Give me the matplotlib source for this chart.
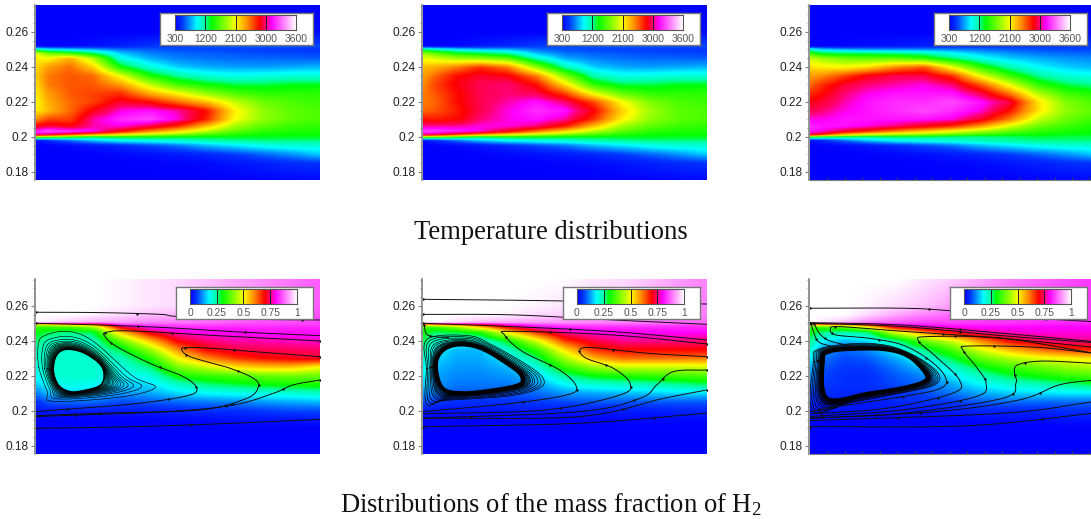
import numpy as np
import matplotlib
matplotlib.use("Agg")
import matplotlib.pyplot as plt
from matplotlib.colors import LinearSegmentedColormap

plt.rcParams['font.family'] = ['Liberation Sans', 'DejaVu Sans']
W, H = 1091, 519

# ---------- data ----------
X_ST = [0, .04, .12, .2, .3, .4, .5, .6, .7, .8, .9, 1]
T_Y = [.275, .26, .252, .25, .248, .245, .24, .235, .23, .225, .22, .215, .21, .206, .203, .201, .2, .198, .195, .19, .185, .175]
T_TOP = [[300]*12,
         [300, 300, 300, 300, 300, 300, 310, 320, 330, 340, 340, 340]]
T_BOTTOM = [[350, 450, 650, 850, 1000, 1050, 1100, 1180, 1220, 1250, 1250, 1250],
            [300, 310, 330, 380, 450, 550, 650, 800, 900, 1000, 1050, 1050],
            [300, 300, 300, 310, 330, 360, 400, 450, 520, 620, 720, 850],
            [300, 300, 300, 300, 300, 310, 320, 340, 380, 420, 470, 500],
            [300, 300, 300, 300, 300, 300, 300, 300, 300, 310, 320, 330]]
T1 = T_TOP + [
    [300, 300, 310, 360, 420, 500, 550, 580, 600, 600, 580, 560],
    [1200, 1000, 900, 800, 650, 600, 560, 540, 530, 520, 510, 500],
    [2000, 1700, 1500, 1250, 820, 680, 620, 600, 580, 560, 550, 540],
    [2150, 2100, 2350, 1900, 1000, 780, 680, 650, 630, 620, 610, 600],
    [2200, 2400, 2550, 2250, 1400, 1050, 850, 780, 750, 750, 770, 800],
    [2250, 2500, 2600, 2550, 2050, 1450, 1200, 1050, 1000, 1020, 1050, 1050],
    [2200, 2500, 2600, 2600, 2400, 1950, 1550, 1400, 1300, 1300, 1350, 1350],
    [2150, 2400, 2600, 2650, 2700, 2350, 2100, 1800, 1600, 1500, 1500, 1500],
    [2100, 2350, 2550, 2650, 2900, 2800, 2550, 2300, 1950, 1700, 1600, 1550],
    [2150, 2300, 2550, 2850, 3100, 3150, 3050, 2800, 2150, 1800, 1650, 1600],
    [2450, 2650, 2650, 3050, 3200, 3250, 3100, 2750, 2100, 1800, 1650, 1600],
    [2850, 2950, 2850, 3050, 3100, 2950, 2700, 2300, 1850, 1650, 1550, 1500],
    [3200, 3300, 3250, 3150, 2800, 2450, 2200, 1900, 1650, 1500, 1450, 1450],
    [3000, 2900, 2600, 2300, 2050, 1850, 1700, 1550, 1450, 1400, 1400, 1400],
    [1800, 1700, 1500, 1300, 1400, 1400, 1350, 1350, 1350, 1350, 1350, 1350],
] + T_BOTTOM
T2 = T_TOP + [
    [300, 300, 320, 380, 450, 520, 560, 580, 600, 600, 580, 560],
    [1300, 1150, 950, 850, 800, 650, 570, 540, 530, 520, 510, 500],
    [1800, 1650, 1400, 1300, 1150, 800, 650, 610, 580, 560, 550, 540],
    [2050, 2000, 1850, 1800, 1650, 1100, 770, 680, 640, 620, 610, 600],
    [2300, 2350, 2500, 2700, 2500, 1800, 1150, 850, 770, 750, 770, 800],
    [2400, 2550, 2800, 2900, 2850, 2500, 1750, 1150, 1000, 1020, 1050, 1050],
    [2450, 2650, 2850, 2950, 3000, 2800, 2200, 1500, 1300, 1300, 1350, 1350],
    [2500, 2600, 2800, 2950, 3000, 2950, 2650, 2050, 1650, 1500, 1500, 1500],
    [2500, 2550, 2800, 2950, 3050, 3150, 3000, 2650, 2100, 1750, 1600, 1550],
    [2550, 2600, 2750, 2950, 3100, 3200, 3150, 2850, 2250, 1850, 1650, 1600],
    [2800, 2750, 2800, 3000, 3100, 3150, 3050, 2700, 2150, 1800, 1650, 1600],
    [3050, 3050, 3050, 3100, 3100, 3000, 2750, 2300, 1850, 1650, 1550, 1500],
    [3250, 3250, 3200, 3100, 2850, 2500, 2200, 1900, 1650, 1500, 1450, 1450],
    [3000, 2900, 2600, 2300, 2050, 1850, 1700, 1550, 1450, 1400, 1400, 1400],
    [1800, 1700, 1500, 1300, 1400, 1400, 1350, 1350, 1350, 1350, 1350, 1350],
] + T_BOTTOM
T3 = T_TOP + [
    [300, 300, 320, 350, 380, 420, 450, 480, 500, 520, 520, 520],
    [1100, 900, 800, 750, 730, 720, 700, 650, 600, 570, 550, 540],
    [1500, 1300, 1250, 1250, 1200, 1150, 950, 800, 720, 650, 620, 600],
    [1950, 1850, 1700, 1650, 1650, 1500, 1250, 1000, 850, 780, 730, 700],
    [2200, 2150, 2100, 2200, 2450, 2600, 2050, 1500, 1150, 950, 850, 800],
    [2400, 2450, 2650, 2850, 2950, 2950, 2700, 2050, 1550, 1200, 1050, 1000],
    [2550, 2700, 2900, 3000, 3050, 3100, 3000, 2600, 2050, 1500, 1300, 1200],
    [2700, 2800, 3000, 3100, 3150, 3150, 3150, 2950, 2500, 1900, 1550, 1450],
    [2850, 2900, 3050, 3150, 3200, 3200, 3250, 3150, 2950, 2200, 1750, 1600],
    [2950, 3000, 3100, 3150, 3200, 3250, 3200, 3100, 2800, 2200, 1800, 1650],
    [3100, 3100, 3150, 3150, 3150, 3150, 3100, 2900, 2500, 1950, 1700, 1550],
    [3200, 3150, 3150, 3100, 3000, 2850, 2700, 2400, 2000, 1700, 1550, 1450],
    [3150, 3100, 2900, 2700, 2450, 2250, 2050, 1850, 1650, 1500, 1450, 1400],
    [2900, 2700, 2200, 1950, 1800, 1700, 1600, 1500, 1400, 1400, 1350, 1350],
    [1500, 1300, 1250, 1200, 1250, 1250, 1200, 1200, 1250, 1300, 1300, 1300],
] + T_BOTTOM

H_Y = [.275, .26, .255, .2505, .2495, .248, .245, .24, .235, .23, .225, .22, .215, .21, .205, .2, .195, .19, .175]
M1 = [
    [1, 1, 1, 1, .99, .98, .97, .95, .93, .91, .89, .87],
    [1, 1, 1, 1, .99, .98, .97, .95, .93, .91, .89, .87],
    [1, 1, 1, .99, .97, .95, .94, .92, .90, .88, .87, .86],
    [1, .98, .95, .93, .92, .90, .89, .88, .87, .86, .86, .85],
    [.45, .5, .55, .6, .85, .86, .86, .86, .85, .85, .85, .85],
    [.35, .34, .36, .42, .73, .82, .83, .83, .83, .83, .83, .83],
    [.3, .28, .26, .28, .55, .72, .78, .8, .8, .81, .81, .81],
    [.27, .23, .22, .22, .38, .55, .71, .75, .77, .77, .78, .78],
    [.24, .22, .215, .215, .28, .42, .6, .7, .73, .74, .74, .75],
    [.22, .215, .215, .215, .23, .32, .5, .6, .66, .69, .71, .72],
    [.2, .215, .215, .215, .2, .26, .4, .46, .52, .55, .55, .5],
    [.19, .21, .215, .215, .18, .2, .31, .34, .36, .38, .39, .38],
    [.15, .18, .2, .19, .15, .16, .22, .26, .28, .3, .31, .32],
    [.1, .14, .15, .14, .12, .13, .16, .18, .19, .2, .21, .22],
    [.05, .08, .09, .09, .07, .08, .09, .1, .11, .12, .13, .14],
    [.02, .03, .03, .03, .03, .03, .04, .05, .05, .06, .07, .07],
    [0, 0, 0, 0, 0, 0, .01, .01, .02, .02, .02, .03],
    [0]*12,
    [0]*12,
]
M2 = [
    [1, 1, 1, 1, 1, 1, .995, .98, .97, .95, .92, .9],
    [1, 1, 1, 1, 1, .99, .98, .97, .96, .94, .92, .9],
    [1, 1, 1, 1, .99, .97, .96, .95, .93, .92, .91, .9],
    [1, 1, .97, .94, .93, .92, .91, .9, .9, .89, .88, .88],
    [.55, .6, .65, .7, .8, .85, .87, .87, .87, .87, .86, .86],
    [.35, .34, .42, .55, .72, .8, .82, .83, .83, .83, .83, .83],
    [.3, .27, .28, .32, .52, .67, .77, .79, .8, .8, .8, .8],
    [.28, .22, .2, .2, .3, .47, .66, .73, .76, .76, .76, .75],
    [.25, .18, .14, .14, .22, .34, .53, .67, .7, .7, .7, .7],
    [.22, .16, .13, .13, .17, .26, .43, .56, .62, .62, .62, .61],
    [.2, .14, .12, .12, .14, .2, .34, .42, .46, .46, .46, .47],
    [.18, .13, .11, .11, .12, .15, .25, .3, .32, .34, .35, .36],
    [.16, .12, .1, .1, .1, .12, .18, .21, .22, .23, .25, .27],
    [.12, .1, .08, .08, .08, .09, .12, .13, .14, .15, .16, .16],
    [.08, .06, .05, .05, .05, .06, .07, .08, .08, .08, .08, .08],
    [.02, .02, .02, .02, .02, .03, .03, .03, .03, .03, .04, .04],
    [0, 0, 0, 0, 0, 0, 0, 0, .01, .01, .01, .01],
    [0]*12,
    [0]*12,
]
M3 = [
    [1, 1, 1, 1, 1, .98, .96, .93, .9, .88, .86, .84],
    [1, 1, 1, .99, .97, .95, .92, .9, .88, .86, .85, .84],
    [1, 1, 1, .97, .93, .9, .88, .87, .86, .85, .85, .84],
    [1, .98, .95, .9, .87, .85, .85, .84, .84, .83, .83, .83],
    [.55, .6, .6, .7, .82, .83, .83, .83, .83, .82, .82, .82],
    [.34, .35, .38, .5, .72, .78, .8, .8, .8, .8, .8, .8],
    [.3, .26, .24, .26, .48, .6, .72, .77, .78, .79, .79, .79],
    [.26, .18, .14, .16, .24, .38, .47, .6, .7, .74, .76, .76],
    [.22, .12, .09, .11, .18, .26, .36, .48, .56, .62, .66, .68],
    [.18, .1, .07, .08, .13, .2, .28, .38, .44, .48, .5, .52],
    [.14, .08, .06, .06, .1, .15, .22, .29, .35, .38, .42, .44],
    [.12, .07, .05, .05, .08, .11, .17, .23, .28, .31, .34, .36],
    [.1, .06, .05, .05, .07, .09, .13, .18, .21, .23, .25, .28],
    [.07, .05, .04, .04, .05, .07, .1, .13, .15, .16, .17, .17],
    [.05, .03, .03, .03, .04, .05, .06, .08, .09, .09, .09, .09],
    [.02, .02, .02, .02, .02, .02, .03, .04, .04, .04, .05, .05],
    [0, 0, 0, 0, 0, 0, 0, .01, .01, .01, .02, .02],
    [0]*12,
    [0]*12,
]

# streamlines: (x fraction, y)
S1 = [
    [(0, .2564), (.225, .2562), (.437, .2552), (.5, .2540), (.77, .2524), (1, .2520)],
    [(0, .2501), (.225, .2491), (.46, .2476), (.695, .2453), (1, .2430)],
    [(1, .2400), (.695, .2425), (.343, .2457), (.249, .2450), (.243, .2425), (.284, .2368), (.401, .2272),
     (.519, .2196), (.566, .2130), (.531, .2086), (.343, .2040), (.108, .2010), (0, .1996)],
    [(1, .2310), (.812, .2333), (.624, .2358), (.531, .2362), (.513, .2349), (.548, .2307), (.683, .2244),
     (.765, .2187), (.783, .2139), (.742, .2072), (.577, .2006), (.225, .1987), (0, .1973)],
    [(1, .2177), (.906, .2149), (.836, .2101), (.695, .2034), (.46, .1996), (0, .1968)],
    [(0, .1901), (.343, .1910), (.695, .1930), (1, .1952)],
]
S2 = [
    [(0, .2638), (.434, .2630), (1, .2611)],
    [(0, .2552), (.316, .2549), (.67, .2520), (1, .2495)],
    [(0, .2501), (.316, .2482), (.67, .2453), (1, .2406)],
    [(1, .2383), (.67, .2434), (.316, .2455), (.287, .2434), (.351, .2339), (.481, .2234), (.54, .2139),
     (.505, .2091), (.316, .2044), (0, .1996)],
    [(1, .2310), (.788, .2330), (.599, .2362), (.552, .2349), (.575, .2301), (.67, .2244), (.729, .2158),
     (.693, .2091), (.434, .2006), (0, .1983)],
    [(1, .2234), (.882, .2225), (.823, .2149), (.764, .2072), (.552, .1996), (0, .1958)],
    [(1, .2120), (.847, .2072), (.552, .1968), (0, .1958)],
    [(0, .1910), (.552, .1930), (1, .1987)],
    [(.004, .2490), (.012, .2440), (.04, .2425), (.09, .2420)],
]
S3 = [
    [(0, .2587), (.326, .2587), (.491, .2573), (.796, .2530), (1, .2510)],
    [(0, .2505), (.326, .2491), (.678, .2444), (1, .2396)],
    [(0, .2501), (.326, .2482), (.678, .2430), (1, .2390)],
    [(1, .2364), (.678, .2415), (.326, .2455), (.103, .2482), (.072, .2467), (.092, .2434), (.209, .2415),
     (.326, .2377), (.42, .2291), (.476, .2196), (.461, .2130), (.326, .2082), (.092, .2025), (0, .1996)],
    [(1, .2330), (.678, .2415), (.42, .2425), (.381, .2402), (.444, .2310), (.526, .2177), (.502, .2101),
     (.268, .2015), (0, .1983)],
    [(1, .2330), (.796, .2364), (.561, .2371), (.538, .2349), (.585, .2253), (.62, .2158), (.585, .2082),
     (.326, .2006), (0, .1968)],
    [(1, .2272), (.819, .2285), (.731, .2263), (.72, .2215), (.725, .2158), (.678, .2072), (.326, .1987), (0, .1958)],
    [(1, .2177), (.878, .2149), (.737, .2063), (.444, .1996), (0, .1958)],
    [(1, .2053), (.678, .1987), (0, .1945)],
    [(0, .1910), (.561, .1916), (1, .1987)],
    [(.004, .2497), (.015, .2440), (.035, .2390), (.1, .2360)],
    [(.015, .2497), (.035, .2440), (.07, .2400), (.15, .2370)],
]
# vortex rings: inner and outer closed curves with matching point order
V1_IN = [(.061, .2234), (.073, .2320), (.108, .2352), (.167, .2333), (.225, .2268), (.24, .2202), (.225, .2145), (.167, .2116), (.12, .2110), (.079, .2148)]
V1_OUT = [(.01, .2250), (.008, .2380), (.03, .2430), (.11, .2455), (.2, .2400), (.34, .2200), (.42, .2135), (.30, .2080), (.06, .2055), (.04, .2110)]
V2_IN = [(.045, .2259), (.068, .2345), (.127, .2380), (.21, .2355), (.316, .2250), (.349, .2196), (.34, .2150), (.257, .2120), (.139, .2101), (.068, .2130)]
V2_OUT = [(.012, .2240), (.015, .2410), (.16, .2430), (.24, .2380), (.36, .2270), (.422, .2190), (.41, .2130), (.3, .2085), (.08, .2060), (.012, .2040)]
V3_IN = [(.045, .2291), (.068, .2340), (.15, .2355), (.268, .2352), (.35, .2310), (.408, .2215), (.403, .2168), (.326, .2130), (.209, .2100), (.06, .2070)]
V3_OUT = [(.012, .2280), (.025, .2350), (.15, .2385), (.27, .2375), (.37, .2315), (.45, .2220), (.44, .2150), (.33, .2105), (.15, .2050), (.01, .2000)]
V_STEPS1 = [0, .02, .04, .06, .08, .1, .12, .14, .17, .2, .23, .27, .31, .36, .42, .5, .6, .75, 1]
V_STEPS2 = [0, .04, .08, .12, .16, .2, .25, .3, .35, .45, .55, .7, .85, 1]

T_TICKS = ['300', '1200', '2100', '3000', '3600']
H_TICKS = ['0', '0.25', '0.5', '0.75', '1']
T_POS = [300, 1200, 2100, 3000, 3600]
Y_TICKS = [.18, .2, .22, .24, .26]
Y_LABELS = ['0.18', '0.2', '0.22', '0.24', '0.26']
X_MINOR = [.0615, .123, .1845, .246, .3075, .369, .4305, .492, .5535, .615, .6765, .738, .7995, .861, .9225, .984]
COLS = [36, 423, 810]
PANEL_W, PANEL_H = 284, 175
TOPS = [5, 279]

CMAP = LinearSegmentedColormap.from_list('rb', [
    (0, (0, 0, 1)), (.06, (0, .22, 1)), (.12, (0, .6, 1)), (.18, (0, 1, 1)), (.25, (0, 1, .62)), (.3, (0, 1, 0)),
    (.45, (.72, 1, 0)), (.5, (1, 1, 0)), (.6, (1, .55, 0)), (.7, (1, 0, 0)), (.75, (1, 0, .43)), (.8, (1, 0, 1)),
    (.9, (1, .5, 1)), (1, (1, 1, 1))], N=512)


def px_axes(x0, y0, w, h, **kw):
    return fig.add_axes([x0 / W, 1 - (y0 + h) / H, w / W, h / H], **kw)


def field(rows, ys):
    a = np.array(rows, float)[::-1]
    ya = np.array(ys)[::-1]
    xf = np.linspace(0, 1, 568)
    yf = np.linspace(.1754, .2754, 350)
    b = np.array([np.interp(yf, ya, c) for c in a.T]).T
    c = np.array([np.interp(xf, X_ST, r) for r in b])
    for axis, n in ((1, 23), (0, 5)):
        k = np.hanning(n + 2)[1:-1]
        k /= k.sum()
        c = np.apply_along_axis(lambda v: np.convolve(np.pad(v, n // 2, mode='edge'), k, mode='valid'), axis, c)
    return c


def smooth(pts, closed=False, n=14):
    p = np.array(pts, float)
    if closed:
        p = np.vstack([p[-1], p, p[0], p[1]])
    else:
        p = np.vstack([2 * p[0] - p[1], p, 2 * p[-1] - p[-2]])
    out = []
    t = np.linspace(0, 1, n, endpoint=False)[:, None]
    for i in range(1, len(p) - 2):
        a, b, c, d = p[i - 1], p[i], p[i + 1], p[i + 2]
        out.append(.5 * (2 * b + (c - a) * t + (2 * a - 5 * b + 4 * c - d) * t**2 + (3 * b - a - 3 * c + d) * t**3))
    out = np.vstack(out + [p[-2][None]])
    return out


def panel(x0, y0, img, ticks, box, bar, bottom_ticks):
    ax = px_axes(x0, y0, PANEL_W, PANEL_H)
    ax.imshow(img, extent=[0, 1, .1754, .2754], origin='lower', aspect='auto', cmap=CMAP, vmin=0, vmax=1,
              interpolation='bilinear', zorder=1)
    ax.set_xlim(0, 1)
    ax.set_ylim(.1754, .2754)
    for s in ('top', 'right'):
        ax.spines[s].set_visible(False)
    ax.spines['bottom'].set_visible(bottom_ticks)
    ax.spines['bottom'].set_color('#808080')
    ax.spines['bottom'].set_linewidth(.8)
    ax.spines['left'].set_color('#808080')
    ax.spines['left'].set_linewidth(1.2)
    ax.spines['left'].set_position(('outward', 1))
    if bottom_ticks:
        ax.set_xticks(X_MINOR)
        ax.set_xticklabels([])
        ax.tick_params(axis='x', direction='in', length=2, width=.6, color='#444444')
    else:
        ax.set_xticks([])
    ax.set_yticks(Y_TICKS)
    ax.set_yticklabels(Y_LABELS, fontsize=8.6, color='#222222')
    ax.set_yticks(np.arange(.18, .275, .005), minor=True)
    ax.tick_params(axis='y', which='major', length=3, width=.8, color='#808080', pad=1.5)
    ax.tick_params(axis='y', which='minor', length=1.5, width=.6, color='#808080')
    b = px_axes(x0 + box[0], y0 + 8, box[1] - box[0], 32, zorder=5)
    b.set_xticks([]); b.set_yticks([])
    b.set_facecolor('white')
    for s in b.spines.values():
        s.set_color('#777777'); s.set_linewidth(1)
    c = px_axes(x0 + bar[0], y0 + 10, bar[1] - bar[0], 15, zorder=6)
    c.imshow(np.linspace(0, 1, 256)[None, :], cmap=CMAP, aspect='auto', extent=[0, 1, 0, 1], vmin=0, vmax=1)
    c.set_xticks([]); c.set_yticks([])
    for s in c.spines.values():
        s.set_color('#555555'); s.set_linewidth(.8)
    for v in (.25, .5, .75):
        c.axvline(v, color='#222222', lw=.7)
    for v, t in zip((0, .25, .5, .75, 1), ticks):
        c.text(v, -.6, t, transform=c.transAxes, fontsize=7.4, color='#555555', ha='center', va='center', clip_on=False)
    return ax


def draw_flow(ax, lines, inner, outer, steps, ring_lw, core_lw):
    a = np.array(inner, float); o = np.array(outer, float)
    for s in steps:
        r = smooth(a + (o - a) * s, closed=True)
        ax.plot(r[:, 0], r[:, 1], color='black', lw=ring_lw, zorder=3)
    core = smooth(a, closed=True)
    ax.plot(core[:, 0], core[:, 1], color='black', lw=core_lw, zorder=3)
    for ln in lines:
        r = smooth(ln)
        ax.plot(r[:, 0], r[:, 1], color='#111111', lw=.7, marker='.', ms=1.4, markevery=22, zorder=3, clip_on=True)


fig = plt.figure(figsize=(W / 100, H / 100), dpi=100, facecolor='white')

T_DATA = [T1, T2, T3]
M_DATA = [M1, M2, M3]
FLOW = [(S1, V1_IN, V1_OUT, V_STEPS1, .45, 1.0),
        (S2, V2_IN, V2_OUT, V_STEPS2, .5, 3.0),
        (S3, V3_IN, V3_OUT, V_STEPS2, .5, 3.0)]

for i, x0 in enumerate(COLS):
    img = np.interp(field(T_DATA[i], T_Y), T_POS, [0, .25, .5, .75, 1])
    ax = panel(x0, TOPS[0], img, T_TICKS, (124, 277), (139, 260), i == 2)
    img = field(M_DATA[i], H_Y)
    ax = panel(x0, TOPS[1], img, H_TICKS, (140, 277), (154, 261), i == 2)
    draw_flow(ax, *FLOW[i])

serif = ['Liberation Serif', 'DejaVu Serif']
fig.text(551 / W, 1 - 232 / H, 'Temperature distributions', family=serif, fontsize=19.2, ha='center', va='center', color='#111111')
fig.text(551 / W, 1 - 505 / H, 'Distributions of the mass fraction of H$\\mathregular{_2}$', family=serif,
         fontsize=19.2, ha='center', va='center', color='#111111')
fig.savefig('out.png', dpi=100)
